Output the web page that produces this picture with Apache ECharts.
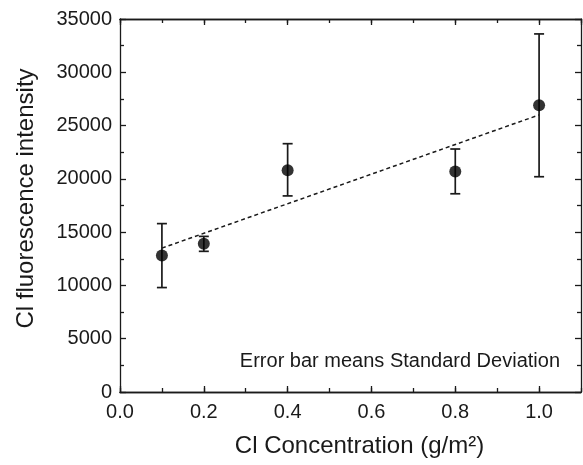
<!DOCTYPE html>
<html>
<head>
<meta charset="utf-8">
<script src="https://cdn.jsdelivr.net/npm/echarts@6/dist/echarts.min.js"></script>
<style>
html,body{margin:0;padding:0;background:#fff;}
#chart{width:583px;height:465px;}
</style>
</head>
<body>
<div id="chart"></div>
<script>
// values
var concentration = [0.1, 0.2, 0.4, 0.8, 1.0];
var intensity = [12800, 13900, 20800, 20700, 26900];
var errLow = [9800, 13200, 18400, 18600, 20200];   // mean - SD
var errHigh = [15800, 14600, 23300, 22800, 33600]; // mean + SD
var fitX = [0.1, 1.0];
var fitY = [13500, 26000];
var xTicks = [0.0, 0.2, 0.4, 0.6, 0.8, 1.0];
var yTicks = [0, 5000, 10000, 15000, 20000, 25000, 30000, 35000];

var FONT = '"Liberation Sans", Arial, Helvetica, sans-serif';
var INK = '#1a1a1a';

var pts = [], bars = [], fit = [];
for (var i = 0; i < concentration.length; i++) {
    pts.push([concentration[i], intensity[i]]);
    bars.push([concentration[i], errLow[i], errHigh[i]]);
}
for (var j = 0; j < fitX.length; j++) {
    fit.push([fitX[j], fitY[j]]);
}

var lineStyle = {color: INK, width: 1.3};
function xAxisCfg(pos, step, tickLen, withLabels) {
    return {
        type: 'value', position: pos,
        min: 0, max: 1.1, interval: step,
        axisLine: {show: true, onZero: false, lineStyle: lineStyle},
        axisTick: {show: true, inside: true, length: tickLen, lineStyle: lineStyle},
        splitLine: {show: false},
        axisLabel: {
            show: withLabels, margin: 10, fontSize: 20, color: INK, fontFamily: FONT,
            showMaxLabel: false,
            formatter: function (v) { return v.toFixed(1); }
        }
    };
}
function yAxisCfg(pos, withLabels) {
    return {
        type: 'value', position: pos,
        min: yTicks[0], max: yTicks[yTicks.length - 1], interval: yTicks[1] - yTicks[0],
        axisLine: {show: true, onZero: false, lineStyle: lineStyle},
        axisTick: {show: true, inside: true, length: 6, lineStyle: lineStyle},
        minorTick: {show: true, splitNumber: 2, length: 4, lineStyle: lineStyle},
        splitLine: {show: false},
        axisLabel: {
            show: withLabels, margin: 8, fontSize: 20, color: INK, fontFamily: FONT,
            formatter: function (v) { return String(v); }
        }
    };
}

var xMain = xAxisCfg('bottom', xTicks[1] - xTicks[0], 6, true);
xMain.name = 'Cl Concentration (g/m\u00b2)';
xMain.nameLocation = 'middle';
xMain.nameGap = 42;
xMain.nameTextStyle = {fontSize: 24, color: INK, fontFamily: FONT, padding: [0, 0, 0, 18]};

var yMain = yAxisCfg('left', true);
yMain.name = 'Cl fluorescence intensity';
yMain.nameLocation = 'middle';
yMain.nameGap = 82;
yMain.nameTextStyle = {fontSize: 24, color: INK, fontFamily: FONT, padding: [0, 0, 0, 14]};

var myChart = echarts.init(document.getElementById('chart'));
var option = {
    animation: false,
    backgroundColor: '#fff',
    grid: {left: 120, right: 2, top: 19, bottom: 73, outerBoundsMode: 'none'},
    xAxis: [
        xMain,
        xAxisCfg('bottom', 0.1, 4, false),
        xAxisCfg('top', xTicks[1] - xTicks[0], 6, false),
        xAxisCfg('top', 0.1, 4, false)
    ],
    yAxis: [
        yMain,
        yAxisCfg('right', false)
    ],
    graphic: [{
        type: 'text',
        x: 560, y: 361,
        style: {
            text: 'Error bar means Standard Deviation',
            font: '20px ' + FONT,
            fill: INK,
            textAlign: 'right',
            textVerticalAlign: 'middle'
        }
    }],
    series: [
        {
            name: 'fit',
            type: 'line',
            data: fit,
            showSymbol: false,
            lineStyle: {color: INK, width: 1.5, type: [4, 3]},
            z: 2
        },
        {
            name: 'sd',
            type: 'custom',
            data: bars,
            encode: {x: 0, y: [1, 2]},
            renderItem: function (params, api) {
                var lo = api.coord([api.value(0), api.value(1)]);
                var hi = api.coord([api.value(0), api.value(2)]);
                var half = 5;
                var st = {stroke: INK, lineWidth: 1.7};
                return {
                    type: 'group',
                    children: [
                        {type: 'line', shape: {x1: lo[0], y1: lo[1], x2: hi[0], y2: hi[1]}, style: st},
                        {type: 'line', shape: {x1: lo[0] - half, y1: lo[1], x2: lo[0] + half, y2: lo[1]}, style: st},
                        {type: 'line', shape: {x1: hi[0] - half, y1: hi[1], x2: hi[0] + half, y2: hi[1]}, style: st}
                    ]
                };
            },
            z: 3
        },
        {
            name: 'mean',
            type: 'scatter',
            data: pts,
            symbol: 'circle',
            symbolSize: 12,
            itemStyle: {color: '#000'},
            z: 4
        }
    ]
};
myChart.setOption(option);
</script>
</body>
</html>
